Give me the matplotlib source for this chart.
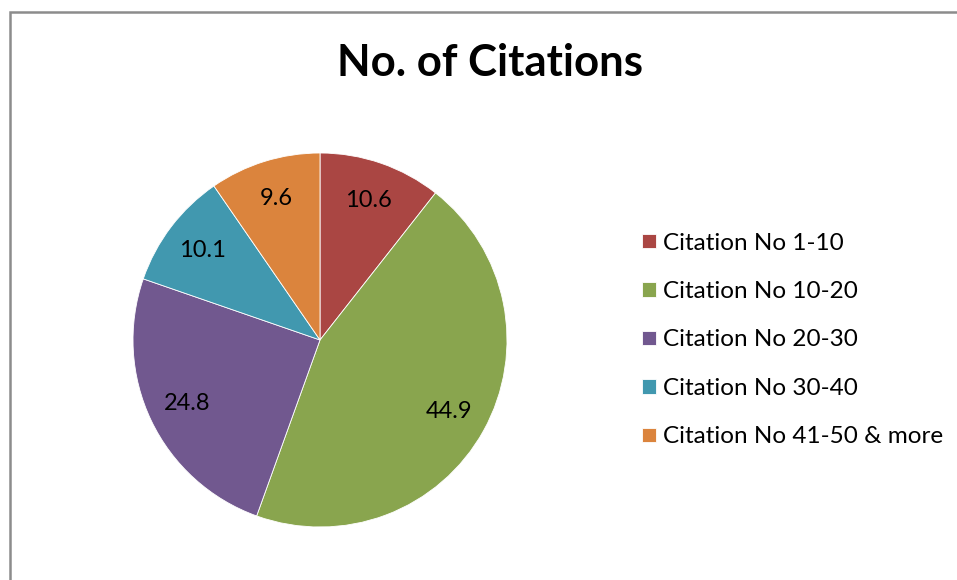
import matplotlib.pyplot as plt
from matplotlib.patches import Rectangle

# Share of papers per citation band
categories = ['Citation No 1-10', 'Citation No 10-20', 'Citation No 20-30',
              'Citation No 30-40', 'Citation No 41-50 & more']
values = [10.6, 44.9, 24.8, 10.1, 9.6]
colors = ['#AA4643', '#89A54E', '#71588F', '#4198AF', '#DB843D']

plt.rcParams['font.family'] = ['Lato', 'DejaVu Sans']

W, H = 957, 580
fig = plt.figure(figsize=(W / 100, H / 100), dpi=100)

# chart area border (runs off the right and bottom edges)
fig.patches.append(Rectangle((10 / W, -0.1), 1.2, 1 - 12 / H + 0.1,
                             transform=fig.transFigure, fill=False,
                             edgecolor='#8c8c8c', linewidth=1.8))

cx, cy, r = 320, 340, 187
ax = fig.add_axes([(cx - r) / W, (H - cy - r) / H, 2 * r / W, 2 * r / H])
wedges, _, autotexts = ax.pie(values, colors=colors, startangle=90, counterclock=False,
                              autopct=lambda p: f'{p:.1f}', pctdistance=0.79,
                              wedgeprops=dict(edgecolor='white', linewidth=0.6),
                              textprops=dict(fontsize=17, color='black'))
ax.set_xlim(-1, 1)
ax.set_ylim(-1, 1)
ax.set_aspect('equal')

fig.text(490 / W, 1 - 63 / H, 'No. of Citations', ha='center', va='center',
         fontsize=31.5, fontweight='bold')

fig.legend(wedges, categories, loc='center left',
           bbox_to_anchor=(630 / W, 1 - 340 / H), frameon=False,
           fontsize=17.5, handlelength=0.55, handleheight=0.55,
           handletextpad=0.3, labelspacing=1.13, borderpad=0)

fig.savefig('out.png', dpi=100)
